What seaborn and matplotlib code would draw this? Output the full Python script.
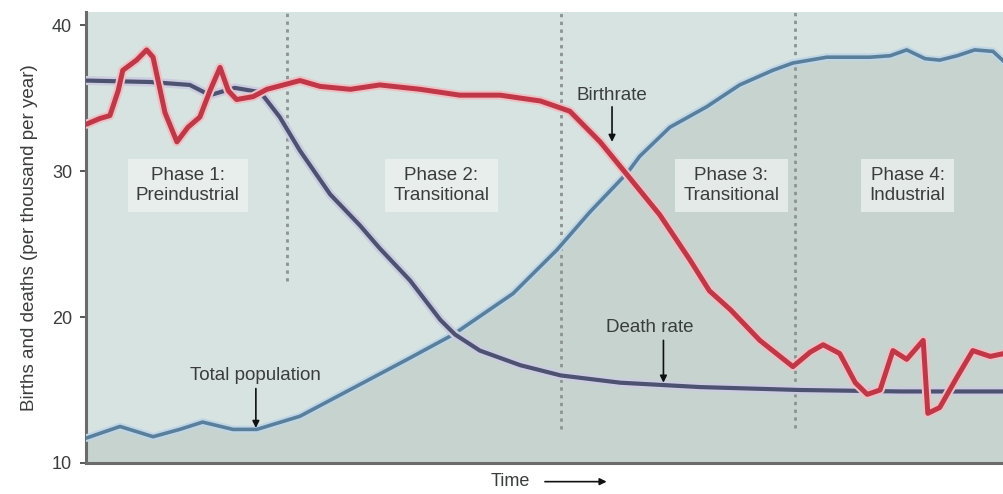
import numpy as np
import pandas as pd
import matplotlib
matplotlib.use("Agg")
import matplotlib.pyplot as plt
import matplotlib.patheffects as pe
import seaborn as sns

# Values (time on a 0-100 scale, rates per thousand)
birth_t = [0, 1.5, 2.6, 3.5, 4.0, 5.5, 6.6, 7.3, 8.6, 9.9, 11.1, 12.4, 13.5, 14.6, 15.5, 16.4, 18.2, 19.7, 23.3,
           25.5, 28.8, 32.0, 36.4, 40.7, 45.1, 49.5, 52.7, 56.0, 59.0, 62.5, 65.8, 67.9, 70.2, 73.4,
           77.0, 78.9, 80.3, 82.1, 83.8, 85.1, 86.5, 87.9, 89.4, 91.2, 91.7, 93.0, 94.9, 96.6, 98.5, 100]
birth_v = [33.2, 33.6, 33.8, 35.5, 36.9, 37.6, 38.3, 37.8, 34.0, 32.0, 33.0, 33.7, 35.5, 37.1, 35.5, 34.9, 35.1, 35.6, 36.2,
           35.8, 35.6, 35.9, 35.6, 35.2, 35.2, 34.8, 34.1, 32.0, 29.7, 27.0, 23.9, 21.8, 20.5, 18.4,
           16.6, 17.6, 18.1, 17.5, 15.5, 14.7, 15.0, 17.7, 17.1, 18.4, 13.4, 13.8, 15.9, 17.7, 17.3, 17.5]

death_t = [0, 7.0, 11.3, 13.5, 16.2, 19.0, 21.1, 23.3, 26.6, 29.8, 32.0, 35.3, 38.6, 40.2, 42.9, 47.3,
           51.7, 58.2, 66.9, 77.8, 88.7, 100]
death_v = [36.2, 36.1, 35.9, 35.2, 35.7, 35.4, 33.7, 31.4, 28.4, 26.3, 24.7, 22.5, 19.8, 18.8, 17.7, 16.7,
           16.0, 15.5, 15.2, 15.0, 14.9, 14.9]

pop_t = [0, 3.7, 7.3, 10.2, 12.7, 16.0, 18.6, 23.3, 30.2, 35.3, 40.0, 46.5, 51.3, 54.9, 59.0, 60.3,
         63.6, 67.6, 71.2, 74.8, 77.0, 80.7, 85.4, 87.6, 89.4, 91.4, 93.0, 94.9, 96.8, 98.8, 100]
pop_v = [11.7, 12.5, 11.8, 12.3, 12.8, 12.3, 12.3, 13.2, 15.5, 17.2, 18.8, 21.6, 24.6, 27.2, 29.9, 31.0,
         33.0, 34.4, 35.9, 36.9, 37.4, 37.8, 37.8, 37.9, 38.3, 37.7, 37.6, 37.9, 38.3, 38.2, 37.5]

phase_bounds = [21.9, 51.7, 77.2]
phase_bound_bottom = [22.5, 12.3, 12.4]
phase_labels = ["Phase 1:\nPreindustrial", "Phase 2:\nTransitional", "Phase 3:\nTransitional", "Phase 4:\nIndustrial"]
phase_label_t = [11.1, 38.7, 70.3, 89.5]
phase_label_v = 29.0

births = pd.DataFrame({"t": birth_t, "v": birth_v})
deaths = pd.DataFrame({"t": death_t, "v": death_v})
pop = pd.DataFrame({"t": pop_t, "v": pop_v})

sns.set_theme(style="ticks")
plt.rcParams["font.family"] = ["Liberation Sans", "DejaVu Sans"]
txt = "#3a3d3c"

fig = plt.figure(figsize=(10.04, 4.94), dpi=100)
ax = fig.add_axes([0.0857, 0.0628, 0.9143, 0.913])
ax.set_facecolor("#d7e3e0")

# darker area under the population curve
ax.fill_between(pop["t"], pop["v"], 10, color="#c6d3cf", lw=0, zorder=1)

# phase dividers
for b, bottom in zip(phase_bounds, phase_bound_bottom):
    ax.plot([b, b], [bottom, 41], color="#8e9291", lw=2, ls=(0, (1.2, 1.6)), zorder=2)

sns.lineplot(data=pop, x="t", y="v", ax=ax, color="#5a7f9a", lw=2.6, sort=False, zorder=4,
             path_effects=[pe.Stroke(linewidth=5.5, foreground="#bed6e8"), pe.Normal()])
sns.lineplot(data=deaths, x="t", y="v", ax=ax, color="#4c5270", lw=3.0, sort=False, zorder=5,
             path_effects=[pe.Stroke(linewidth=6.5, foreground="#cccce0"), pe.Normal()])
sns.lineplot(data=births, x="t", y="v", ax=ax, color="#c03848", lw=3.6, sort=False, zorder=6,
             path_effects=[pe.Stroke(linewidth=6.5, foreground="#eec0c4"), pe.Normal()])

# phase labels
for lab, x in zip(phase_labels, phase_label_t):
    ax.text(x, phase_label_v, lab, ha="center", va="center", fontsize=13.5, color=txt,
            linespacing=1.2, zorder=7,
            bbox=dict(boxstyle="square,pad=0.45", fc="#eef3f1", ec="none", alpha=0.75))

# curve annotations
arrow = dict(arrowstyle="-|>", color="#111111", lw=1.2, mutation_scale=10, shrinkA=0, shrinkB=0)
ax.text(57.3, 35.2, "Birthrate", ha="center", va="center", fontsize=13.5, color=txt, zorder=8)
ax.annotate("", xy=(57.3, 32.0), xytext=(57.3, 34.4), arrowprops=arrow, zorder=8)
ax.text(61.4, 19.3, "Death rate", ha="center", va="center", fontsize=13.5, color=txt, zorder=8)
ax.annotate("", xy=(62.9, 15.5), xytext=(62.9, 18.4), arrowprops=arrow, zorder=8)
ax.text(18.5, 16.0, "Total population", ha="center", va="center", fontsize=13.5, color=txt, zorder=8)
ax.annotate("", xy=(18.5, 12.4), xytext=(18.5, 15.1), arrowprops=arrow, zorder=8)

ax.set_xlim(0, 100)
ax.set_ylim(10, 40.9)
ax.set_yticks([10, 20, 30, 40])
ax.set_xticks([])
ax.tick_params(axis="y", labelsize=13, colors=txt, length=4, width=1.2, pad=6)
ax.set_xlabel("")
ax.set_ylabel("Births and deaths (per thousand per year)", fontsize=13.5, color=txt, labelpad=10)
sns.despine(ax=ax, top=True, right=True)
for s in ["left", "bottom"]:
    ax.spines[s].set_color("#6b6b6b")
    ax.spines[s].set_linewidth(2.2)

fig.text(0.508, 0.025, "Time", ha="center", va="center", fontsize=13, color=txt)
fig.add_artist(matplotlib.patches.FancyArrowPatch((0.54, 0.025), (0.607, 0.025), transform=fig.transFigure,
                                                  arrowstyle="-|>", mutation_scale=10, color="#111111", lw=1.2))

fig.savefig("out.png", dpi=100)
